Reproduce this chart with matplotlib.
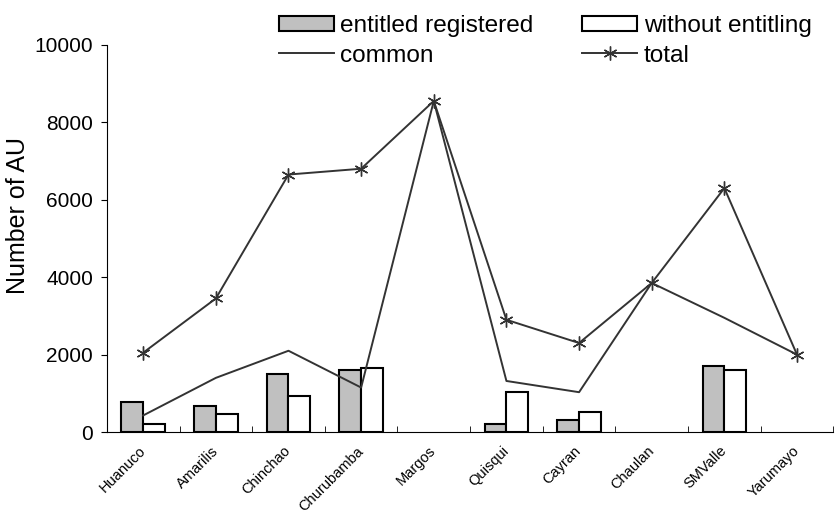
import matplotlib
matplotlib.use("Agg")
import matplotlib.pyplot as plt
import numpy as np

plt.rcParams['font.family'] = ['Liberation Sans', 'DejaVu Sans']

# data (nan = no bar)
places = ['Huanuco', 'Amarilis', 'Chinchao', 'Churubamba', 'Margos',
          'Quisqui', 'Cayran', 'Chaulan', 'SMValle', 'Yarumayo']
entitled = [775, 670, 1500, 1600, np.nan, 200, 310, np.nan, 1700, np.nan]
without = [200, 465, 930, 1650, np.nan, 1030, 520, np.nan, 1600, np.nan]
common = [430, 1400, 2100, 1150, 8550, 1320, 1030, 3850, 2950, 2000]
total = [2050, 3450, 6650, 6800, 8550, 2900, 2300, 3850, 6300, 2000]

x = np.arange(len(places))
w = 0.3

fig = plt.figure(figsize=(8.35, 5.15), dpi=100)
ax = fig.add_axes([0.128, 0.161, 0.87, 0.752])

b1 = ax.bar(x - w/2, entitled, w, color='#c0c0c0', edgecolor='black', linewidth=1.5,
            label='entitled registered')
b2 = ax.bar(x + w/2, without, w, color='white', edgecolor='black', linewidth=1.5,
            label='without entitling')
l1, = ax.plot(x, common, color='#333333', lw=1.4, label='common')
l2, = ax.plot(x, total, color='#333333', lw=1.4, marker=(6, 2, 0), ms=10,
              mew=1.0, label='total')

ax.set_xlim(-0.5, len(places) - 0.5)
ax.set_ylim(0, 10000)
ax.set_yticks(np.arange(0, 10001, 2000))
ax.tick_params(axis='y', labelsize=15, direction='out', length=4, pad=6)
ax.set_ylabel('Number of AU', fontsize=18)
ax.yaxis.set_label_coords(-0.106, 0.56)

# category labels at centers, ticks between categories
ax.set_xticks(x)
ax.set_xticklabels(places, rotation=45, ha='right', va='center',
                   rotation_mode='anchor', fontsize=10.5)
ax.tick_params(axis='x', which='major', length=0, pad=12)
ax.set_xticks(np.arange(-0.5, len(places), 1), minor=True)
ax.tick_params(axis='x', which='minor', direction='in', length=4)

ax.spines['top'].set_visible(False)
ax.spines['right'].set_visible(False)

fig.legend(handles=[b1, l1, b2, l2], ncol=2, frameon=False, fontsize=17.6,
           loc='upper left', bbox_to_anchor=(267/835, 1 - 3/515), borderpad=0,
           handlelength=2.25, handleheight=0.57, handletextpad=0.25,
           columnspacing=2.0, labelspacing=0.3)

fig.savefig('out.png', dpi=100)
